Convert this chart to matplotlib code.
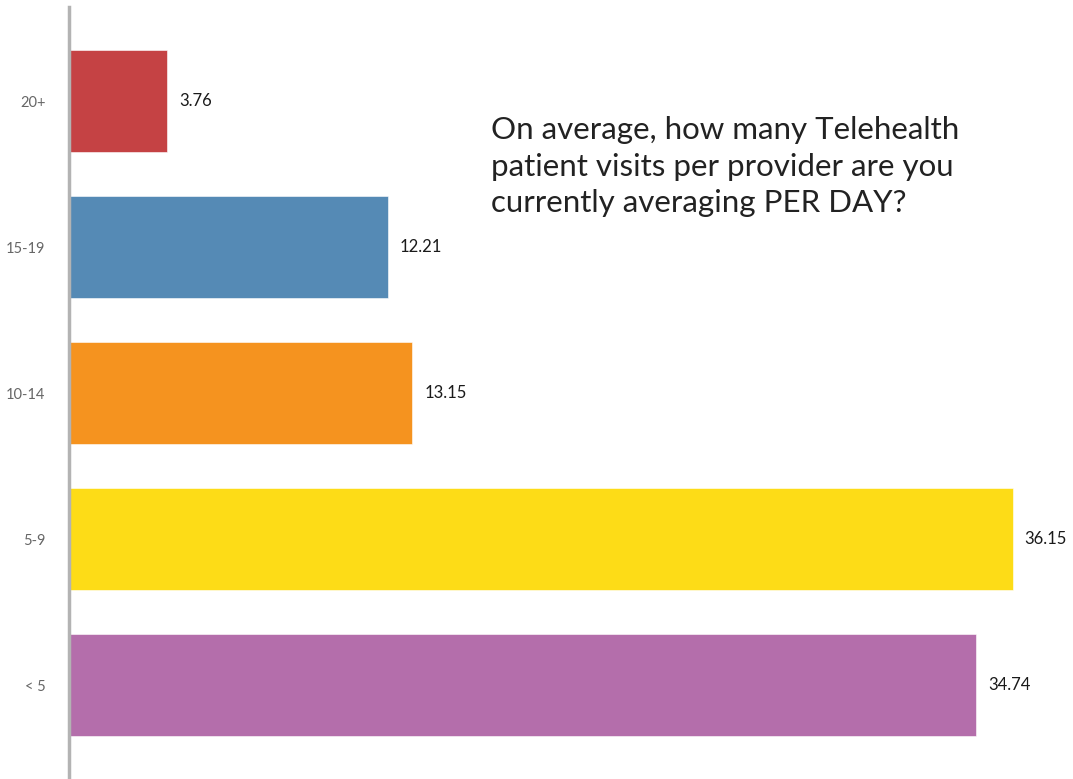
import numpy as np
import matplotlib.pyplot as plt

plt.rcParams['font.family'] = ['Lato', 'DejaVu Sans']

categories = ["< 5", "5-9", "10-14", "15-19", "20+"]
values = [34.74, 36.15, 13.15, 12.21, 3.76]
colors = ["#b46eab", "#fddc17", "#f5931f", "#558ab5", "#c54244"]
title = "On average, how many Telehealth\npatient visits per provider are you\ncurrently averaging PER DAY?"

fig = plt.figure(figsize=(10.73, 7.79), dpi=100)
ax = fig.add_axes([69 / 1073, 0, 1 - 69 / 1073, 1 - 7 / 779])

y = np.arange(len(categories))
ax.barh(y, values, height=0.70, color=colors, edgecolor="#ffffff", linewidth=0.4)

for yi, v in zip(y, values):
    ax.text(v + 0.45, yi, f"{v:.2f}", va="center", ha="left", fontsize=12, color="#1a1a1a")

ax.set_xlim(0, 38.45)
ax.set_ylim(-0.644, 4.647)
ax.set_yticks(y)
ax.set_yticklabels(categories, fontsize=10.5, color="#666666")
ax.tick_params(axis="y", length=0, pad=17)
ax.set_xticks([])

for s in ["top", "right", "bottom"]:
    ax.spines[s].set_visible(False)
ax.spines["left"].set_color("#b3b3b3")
ax.spines["left"].set_linewidth(2.5)

fig.text(491 / 1073, 1 - 116 / 779, title, ha="left", va="top", fontsize=22.5,
         color="#222222", linespacing=1.38)

fig.savefig("out.png", dpi=100)
